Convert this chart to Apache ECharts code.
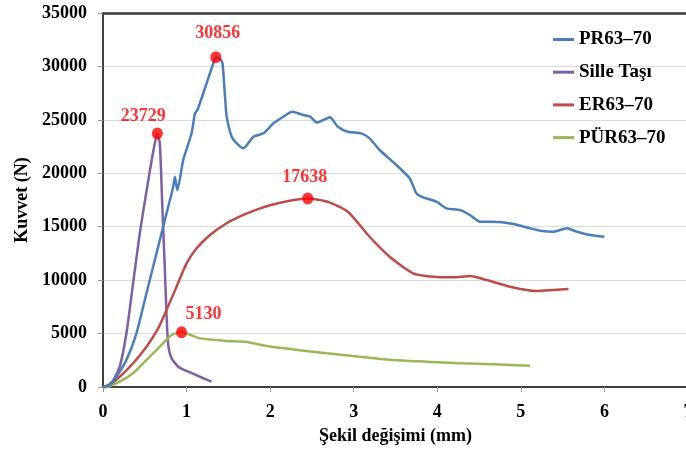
<!DOCTYPE html>
<html><head><meta charset="utf-8">
<script src="https://cdn.jsdelivr.net/npm/echarts@6/dist/echarts.min.js"></script>
<style>html,body{margin:0;padding:0;background:#fff}#c{width:686px;height:452px}</style>
</head><body><div id="c"></div>
<script>
const seriesNames = ['PR63–70', 'Sille Taşı', 'ER63–70', 'PÜR63–70'];
const xTicks = [0, 1, 2, 3, 4, 5, 6, 7];
const yTicks = [0, 5000, 10000, 15000, 20000, 25000, 30000, 35000];

const prX = [0, 0.08, 0.16, 0.28, 0.40, 0.52, 0.64, 0.76, 0.84, 0.86, 0.89, 0.96, 1.06, 1.10, 1.13, 1.24, 1.32, 1.35, 1.40, 1.43, 1.46, 1.48, 1.54, 1.60, 1.68, 1.80, 1.92, 2.04, 2.16, 2.26, 2.40, 2.48, 2.56, 2.72, 2.75, 2.81, 2.93, 3.09, 3.19, 3.31, 3.51, 3.67, 3.75, 3.83, 3.99, 4.11, 4.27, 4.39, 4.51, 4.67, 4.91, 5.11, 5.23, 5.39, 5.55, 5.67, 5.83, 6.00];
const prY = [0, 190, 960, 2530, 5020, 8770, 12510, 16250, 18740, 19680, 18430, 21240, 23740, 25610, 25920, 28420, 30290, 30856, 30700, 30300, 27170, 25300, 23420, 22800, 22340, 23420, 23740, 24680, 25300, 25760, 25450, 25300, 24740, 25240, 24990, 24360, 23890, 23740, 23270, 22180, 20775, 19530, 18130, 17750, 17340, 16720, 16560, 16100, 15470, 15470, 15250, 14850, 14630, 14530, 14850, 14530, 14220, 14060];

const silleX = [0, 0.04, 0.12, 0.20, 0.28, 0.36, 0.44, 0.52, 0.60, 0.65, 0.68, 0.71, 0.74, 0.76, 0.78, 0.82, 0.90, 1.00, 1.16, 1.30];
const silleY = [0, 80, 600, 1900, 5000, 9700, 14380, 18300, 22000, 23729, 22800, 16870, 11000, 6800, 4000, 2700, 1900, 1500, 960, 500];

const erX = [0, 0.04, 0.20, 0.36, 0.52, 0.66, 0.76, 0.88, 1.00, 1.12, 1.28, 1.48, 1.68, 1.88, 2.12, 2.45, 2.70, 2.93, 3.19, 3.43, 3.71, 3.95, 4.19, 4.39, 4.59, 4.87, 5.19, 5.39, 5.57];
const erY = [0, 0, 960, 2220, 3770, 5490, 7200, 9390, 11570, 12980, 14220, 15320, 16100, 16720, 17250, 17638, 17300, 16400, 14060, 12190, 10640, 10320, 10260, 10390, 10010, 9390, 8980, 9080, 9170];

const purX = [0, 0.04, 0.20, 0.36, 0.52, 0.68, 0.82, 0.94, 1.16, 1.36, 1.48, 1.72, 1.96, 2.28, 2.68, 3.07, 3.47, 3.87, 4.27, 4.67, 5.11];
const purY = [0, 0, 500, 1280, 2530, 3770, 4870, 5130, 4550, 4400, 4300, 4210, 3840, 3520, 3150, 2840, 2530, 2370, 2220, 2120, 2000];

const peakX = [1.35, 0.65, 2.45, 0.94];
const peakY = [30856, 23729, 17638, 5130];
const yMax = 35000;

const colors = ['#4a7ebb', '#7f5fa8', '#be4b48', '#98b954'];
const labelOffsets = [[2, -4], [-14, 3], [-3, -1], [22, 2]];
const FONT = '"Liberation Serif", "Times New Roman", serif';

const pairs = (xs, ys) => xs.map((x, i) => [x, ys[i]]);
const lineData = [pairs(prX, prY), pairs(silleX, silleY), pairs(erX, erY), pairs(purX, purY)];

const chart = echarts.init(document.getElementById('c'), null, {renderer: 'canvas'});
const series = seriesNames.map((n, i) => ({
  name: n, type: 'line', data: lineData[i], showSymbol: false, smooth: 0.2, clip: false,
  lineStyle: {color: colors[i], width: 2.5}, itemStyle: {color: colors[i]}, z: 3 + (i === 0 ? 1 : 0)
}));
series[0].markLine = {
  silent: true, symbol: ['none', 'none'], label: {show: false}, animation: false, z: 20,
  lineStyle: {color: '#3a3a3a', width: 2.5, type: 'solid', opacity: 1},
  data: [[{coord: [0, yMax]}, {coord: [7, yMax]}]]
};
series.push({
  name: 'peaks', type: 'scatter', z: 10,
  data: peakX.map((x, i) => ({
    value: [x, peakY[i]],
    label: {offset: labelOffsets[i]}
  })),
  symbol: 'circle', symbolSize: [11, 12],
  itemStyle: {color: '#ff0000'},
  label: {show: true, position: 'top', distance: 5, color: '#ff0000', fontFamily: FONT, fontWeight: 'bold', fontSize: 18,
    formatter: p => String(p.value[1])}
});

chart.setOption({
  animation: false,
  backgroundColor: '#fff',
  color: colors,
  grid: {left: 103, right: -2, top: 13, bottom: 65, outerBoundsMode: 'none', containLabel: false},
  legend: {
    data: seriesNames, orient: 'vertical', left: 548, top: 25,
    icon: 'rect', itemWidth: 21, itemHeight: 3, itemGap: 13.7,
    textStyle: {fontFamily: FONT, fontWeight: 'bold', fontSize: 19, lineHeight: 18, color: '#000'}
  },
  xAxis: {
    type: 'value', min: 0, max: 7, interval: 1,
    name: 'Şekil değişimi (mm)', nameLocation: 'middle', nameGap: 40,
    nameTextStyle: {fontFamily: FONT, fontWeight: 'bold', fontSize: 18, color: '#000'},
    axisLine: {show: true, onZero: false, lineStyle: {color: '#404040', width: 2}},
    axisTick: {show: true, length: 5, lineStyle: {color: '#999'}},
    axisLabel: {margin: 16, fontFamily: FONT, fontWeight: 'bold', fontSize: 18, color: '#000',
      formatter: v => xTicks.includes(v) ? String(v) : ''},
    splitLine: {show: false}
  },
  yAxis: {
    type: 'value', min: 0, max: yMax, interval: 5000,
    name: 'Kuvvet (N)', nameLocation: 'middle', nameGap: 72, nameRotate: 90,
    nameTextStyle: {fontFamily: FONT, fontWeight: 'bold', fontSize: 18, color: '#000'},
    axisLine: {show: true, onZero: false, lineStyle: {color: '#404040', width: 2}},
    axisTick: {show: true, length: 5, lineStyle: {color: '#999'}},
    axisLabel: {margin: 16, fontFamily: FONT, fontWeight: 'bold', fontSize: 18, color: '#000',
      formatter: v => yTicks.includes(v) ? String(v) : ''},
    splitLine: {show: true, lineStyle: {color: '#dadada', width: 1}}
  },
  series: series
});
</script></body></html>
